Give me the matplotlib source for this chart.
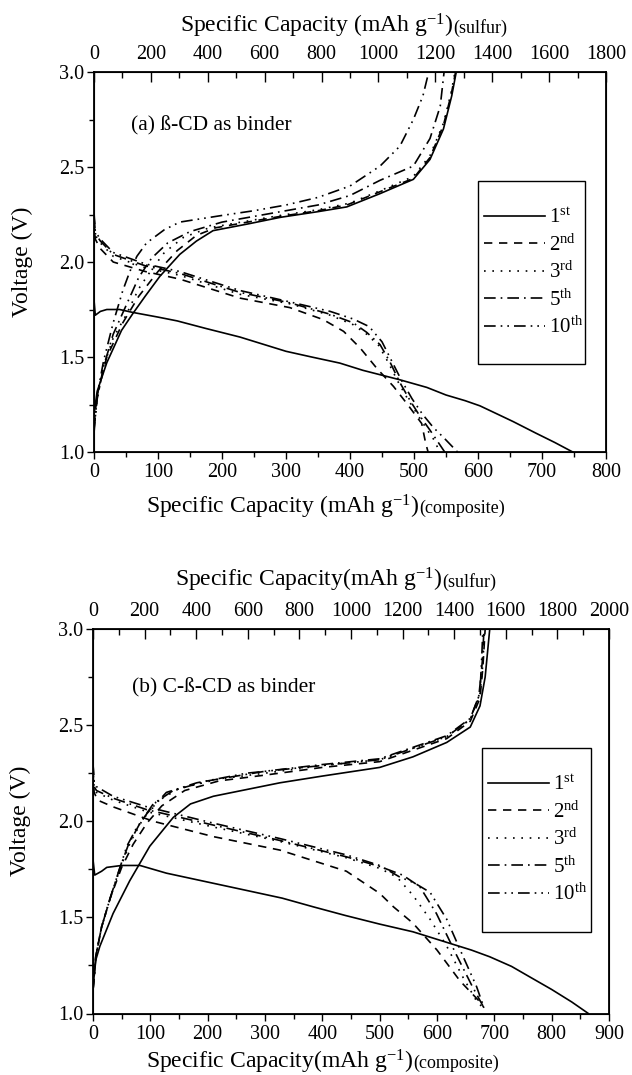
import matplotlib
matplotlib.use("Agg")
import matplotlib.pyplot as plt
from matplotlib.ticker import MultipleLocator
from matplotlib.patches import Rectangle
from matplotlib.lines import Line2D

plt.rcParams['font.family'] = ['Liberation Serif', 'DejaVu Serif']
plt.rcParams['mathtext.fontset'] = 'custom'
plt.rcParams['mathtext.rm'] = 'Liberation Serif'
plt.rcParams['mathtext.it'] = 'Liberation Serif:italic'

# cycles shown in the legend
cycles = ['1$^{\\mathrm{st}}$', '2$^{\\mathrm{nd}}$', '3$^{\\mathrm{rd}}$',
          '5$^{\\mathrm{th}}$', '10$^{\\mathrm{th}}$']

# ---- (a) ß-CD binder, composite capacity (mAh/g) vs voltage (V) ----
a_dis1_x = [0, 0, 2, 10, 20, 40, 60, 100, 130, 175, 228, 300, 340, 384, 420, 478, 520, 550, 580, 603, 630, 655, 690, 720, 748]
a_dis1_y = [2.27, 1.80, 1.72, 1.74, 1.75, 1.75, 1.735, 1.71, 1.69, 1.65, 1.605, 1.53, 1.50, 1.468, 1.43, 1.38, 1.34, 1.30, 1.27, 1.243, 1.20, 1.16, 1.10, 1.05, 1.00]
a_dis2_x = [0, 2, 10, 30, 80, 134, 228, 306, 358, 390, 416, 442, 468, 490, 512, 518, 522]
a_dis2_y = [2.22, 2.12, 2.07, 2.00, 1.95, 1.91, 1.81, 1.76, 1.697, 1.635, 1.547, 1.44, 1.345, 1.25, 1.15, 1.05, 1.00]
a_dis3_x = [0, 2, 10, 30, 80, 134, 228, 306, 369, 405, 426, 445, 460, 475, 490, 505, 520, 532, 540]
a_dis3_y = [2.22, 2.14, 2.10, 2.03, 1.97, 1.93, 1.83, 1.78, 1.72, 1.67, 1.62, 1.56, 1.47, 1.37, 1.28, 1.20, 1.12, 1.06, 1.00]
a_dis5_x = [0, 2, 10, 30, 80, 134, 228, 306, 369, 405, 426, 447, 463, 478, 494, 509, 525, 538, 548]
a_dis5_y = [2.24, 2.15, 2.11, 2.04, 1.98, 1.94, 1.84, 1.785, 1.725, 1.68, 1.63, 1.565, 1.47, 1.365, 1.27, 1.19, 1.115, 1.05, 1.00]
a_dis10_x = [0, 2, 10, 30, 80, 134, 228, 306, 369, 405, 430, 450, 465, 480, 497, 513, 530, 548, 568]
a_dis10_y = [2.26, 2.16, 2.12, 2.05, 1.99, 1.95, 1.85, 1.79, 1.74, 1.70, 1.66, 1.58, 1.48, 1.38, 1.28, 1.20, 1.13, 1.07, 1.00]

a_chg1_x = [0, 5, 20, 43, 61, 80, 103, 134, 160, 186, 240, 291, 350, 395, 447, 499, 525, 546, 559, 566]
a_chg1_y = [1.20, 1.32, 1.47, 1.64, 1.73, 1.82, 1.925, 2.04, 2.11, 2.165, 2.20, 2.235, 2.265, 2.29, 2.36, 2.435, 2.54, 2.70, 2.875, 3.00]
a_chg2_x = [0, 5, 20, 45, 70, 100, 130, 160, 190, 240, 291, 350, 395, 447, 499, 525, 546, 558, 565]
a_chg2_y = [1.15, 1.30, 1.50, 1.68, 1.82, 1.95, 2.06, 2.14, 2.18, 2.21, 2.24, 2.27, 2.30, 2.37, 2.44, 2.55, 2.72, 2.88, 3.00]
a_chg3_x = [0, 5, 15, 30, 50, 70, 90, 110, 140, 180, 230, 291, 350, 400, 447, 499, 525, 546, 558, 564]
a_chg3_y = [1.12, 1.28, 1.45, 1.60, 1.72, 1.86, 1.96, 2.05, 2.13, 2.18, 2.21, 2.245, 2.275, 2.31, 2.375, 2.45, 2.56, 2.73, 2.89, 3.00]
a_chg5_x = [0, 5, 15, 30, 50, 70, 90, 115, 150, 200, 250, 300, 350, 400, 447, 499, 525, 541, 547]
a_chg5_y = [1.12, 1.28, 1.45, 1.62, 1.77, 1.92, 2.02, 2.10, 2.16, 2.21, 2.24, 2.27, 2.30, 2.35, 2.43, 2.505, 2.65, 2.82, 3.00]
a_chg10_x = [0, 5, 15, 30, 45, 56, 67, 82, 110, 134, 200, 250, 300, 350, 400, 447, 478, 499, 514, 523]
a_chg10_y = [1.10, 1.30, 1.48, 1.68, 1.85, 1.95, 2.03, 2.10, 2.17, 2.21, 2.245, 2.27, 2.30, 2.34, 2.40, 2.505, 2.61, 2.75, 2.875, 3.00]

# ---- (b) C-ß-CD binder ----
b_dis1_x = [0, 0, 3, 15, 24, 50, 82, 128, 198, 268, 330, 384, 440, 500, 558, 617, 660, 692, 730, 762, 800, 835, 864]
b_dis1_y = [2.35, 1.80, 1.72, 1.74, 1.76, 1.77, 1.77, 1.73, 1.685, 1.64, 1.60, 1.555, 1.51, 1.465, 1.425, 1.37, 1.33, 1.295, 1.245, 1.19, 1.125, 1.06, 1.00]
b_dis2_x = [0, 2, 8, 35, 105, 210, 326, 442, 500, 524, 558, 600, 640, 675, 682]
b_dis2_y = [2.25, 2.15, 2.11, 2.075, 2.00, 1.92, 1.85, 1.74, 1.625, 1.555, 1.47, 1.33, 1.17, 1.06, 1.03]
b_dis3_x = [0, 2, 6, 35, 94, 210, 326, 442, 500, 530, 558, 588, 617, 645, 668, 680]
b_dis3_y = [2.28, 2.17, 2.15, 2.11, 2.05, 1.97, 1.895, 1.81, 1.755, 1.71, 1.615, 1.49, 1.35, 1.19, 1.07, 1.03]
b_dis5_x = [0, 2, 6, 35, 94, 210, 326, 442, 500, 540, 570, 599, 633, 660, 680]
b_dis5_y = [2.30, 2.18, 2.16, 2.12, 2.06, 1.98, 1.90, 1.815, 1.765, 1.72, 1.66, 1.52, 1.31, 1.15, 1.04]
b_dis10_x = [0, 2, 6, 35, 94, 210, 326, 442, 500, 535, 560, 588, 617, 645, 669, 682]
b_dis10_y = [2.30, 2.20, 2.18, 2.13, 2.075, 1.99, 1.91, 1.825, 1.77, 1.71, 1.68, 1.63, 1.49, 1.30, 1.14, 1.03]

b_chg1_x = [0, 5, 12, 35, 64, 99, 140, 170, 210, 268, 326, 400, 500, 558, 617, 658, 675, 684, 692]
b_chg1_y = [1.14, 1.28, 1.35, 1.52, 1.69, 1.87, 2.02, 2.09, 2.13, 2.165, 2.20, 2.235, 2.28, 2.335, 2.41, 2.49, 2.60, 2.75, 3.00]
b_chg2_x = [0, 5, 15, 30, 50, 70, 94, 120, 160, 220, 300, 400, 500, 617, 658, 675, 680, 684]
b_chg2_y = [1.12, 1.30, 1.45, 1.60, 1.76, 1.88, 1.99, 2.08, 2.16, 2.21, 2.24, 2.28, 2.31, 2.43, 2.52, 2.64, 2.80, 3.00]
b_chg3_x = [0, 5, 15, 30, 48, 65, 85, 110, 150, 220, 300, 400, 500, 617, 658, 675, 680, 683]
b_chg3_y = [1.12, 1.30, 1.45, 1.60, 1.76, 1.89, 2.00, 2.10, 2.17, 2.22, 2.25, 2.29, 2.32, 2.44, 2.53, 2.66, 2.82, 3.00]
b_chg5_x = [0, 5, 15, 30, 46, 62, 82, 105, 140, 200, 300, 400, 500, 617, 658, 673, 679, 682]
b_chg5_y = [1.12, 1.30, 1.45, 1.60, 1.75, 1.88, 1.99, 2.09, 2.16, 2.21, 2.26, 2.295, 2.325, 2.445, 2.535, 2.65, 2.83, 3.00]
b_chg10_x = [0, 5, 15, 30, 45, 59, 75, 94, 128, 181, 268, 400, 500, 617, 658, 675, 678, 680]
b_chg10_y = [1.12, 1.30, 1.45, 1.60, 1.74, 1.87, 1.96, 2.04, 2.15, 2.20, 2.25, 2.29, 2.32, 2.44, 2.53, 2.67, 2.85, 3.00]

styles = ['-', (0, (5, 4)), (0, (1, 4)), (0, (7, 3, 1, 3)), (0, (7, 3, 1, 3, 1, 3))]
LW = 1.2
W, H = 632, 1075


def make_panel(rect, xmax_comp, xmax_sulf, dis, chg, tag, tag_xy, leg_box):
    ax = fig.add_axes(rect)
    for (dx, dy), (cx, cy), ls in zip(dis, chg, styles):
        ax.plot(dx, dy, color='black', lw=LW, linestyle=ls)
        ax.plot(cx, cy, color='black', lw=LW, linestyle=ls)
    ax.set_xlim(0, xmax_comp)
    ax.set_ylim(1.0, 3.0)
    ax.xaxis.set_major_locator(MultipleLocator(100))
    ax.xaxis.set_minor_locator(MultipleLocator(50))
    ax.yaxis.set_major_locator(MultipleLocator(0.5))
    ax.yaxis.set_minor_locator(MultipleLocator(0.25))
    ax.yaxis.set_major_formatter(matplotlib.ticker.FormatStrFormatter('%.1f'))
    ax.tick_params(which='both', direction='out', top=False, right=False,
                   labelsize=14.5, width=1.0)
    ax.tick_params(axis='y', which='major', length=5, pad=2)
    ax.tick_params(axis='x', which='major', length=5, pad=3)
    ax.tick_params(which='minor', length=3.5)
    for s in ax.spines.values():
        s.set_linewidth(1.3)
    ax.set_ylabel('Voltage (V)', fontsize=17)
    ax.yaxis.set_label_coords(-0.12, 0.5)

    ax2 = ax.twiny()
    ax2.set_xlim(0, xmax_sulf)
    ax2.xaxis.set_major_locator(MultipleLocator(200))
    ax2.xaxis.set_minor_locator(MultipleLocator(100))
    ax2.tick_params(which='both', direction='in', labelsize=14.5, pad=6, width=1.0)
    ax2.tick_params(which='major', length=7.5)
    ax2.tick_params(which='minor', length=4)

    ax.text(tag_xy[0], tag_xy[1], tag, transform=ax.transAxes, fontsize=15.5,
            ha='left', va='center')

    # legend with a plain rectangular box
    x0, y0, x1, y1 = leg_box
    ax.add_patch(Rectangle((x0, y0), x1 - x0, y1 - y0, transform=ax.transAxes,
                           fill=False, edgecolor='black', lw=1.0, zorder=5))
    handles = [Line2D([], [], color='black', lw=LW, linestyle=ls) for ls in styles]
    ax.legend(handles, cycles, loc='upper left', bbox_to_anchor=(x0, y1 - 0.055),
              frameon=False, fontsize=15, handlelength=2.9, handletextpad=0.2,
              labelspacing=0.3, borderpad=0.0, borderaxespad=0.3)
    return ax


def cap_label(x_px, y_px, main, sub):
    t1 = fig.text(x_px / W, 1 - y_px / H, main, fontsize=17, ha='left', va='baseline')
    fig.canvas.draw()
    bb = t1.get_window_extent()
    fig.text(bb.x1 / W, 1 - y_px / H, sub, fontsize=13, ha='left', va='baseline')


fig = plt.figure(figsize=(W / 100, H / 100), dpi=100)

a_dis = [(a_dis1_x, a_dis1_y), (a_dis2_x, a_dis2_y), (a_dis3_x, a_dis3_y),
         (a_dis5_x, a_dis5_y), (a_dis10_x, a_dis10_y)]
a_chg = [(a_chg1_x, a_chg1_y), (a_chg2_x, a_chg2_y), (a_chg3_x, a_chg3_y),
         (a_chg5_x, a_chg5_y), (a_chg10_x, a_chg10_y)]
b_dis = [(b_dis1_x, b_dis1_y), (b_dis2_x, b_dis2_y), (b_dis3_x, b_dis3_y),
         (b_dis5_x, b_dis5_y), (b_dis10_x, b_dis10_y)]
b_chg = [(b_chg1_x, b_chg1_y), (b_chg2_x, b_chg2_y), (b_chg3_x, b_chg3_y),
         (b_chg5_x, b_chg5_y), (b_chg10_x, b_chg10_y)]

make_panel([94 / W, 1 - 452 / H, 512 / W, 380 / H], 800, 1800, a_dis, a_chg,
           '(a) ß-CD as binder', (0.072, 0.858), (0.75, 0.232, 0.959, 0.712))
make_panel([93 / W, 1 - 1013.5 / H, 516 / W, 384.5 / H], 900, 2000, b_dis, b_chg,
           '(b) C-ß-CD as binder', (0.075, 0.847), (0.754, 0.213, 0.965, 0.69))

cap_label(180, 33, 'Specific Capacity (mAh g$^{\\mathrm{-1}}$)', '(sulfur)')
cap_label(146, 513, 'Specific Capacity (mAh g$^{\\mathrm{-1}}$)', '(composite)')
cap_label(175, 587, 'Specific Capacity(mAh g$^{\\mathrm{-1}}$)', '(sulfur)')
cap_label(146, 1068, 'Specific Capacity(mAh g$^{\\mathrm{-1}}$)', '(composite)')

fig.savefig('out.png', dpi=100)
